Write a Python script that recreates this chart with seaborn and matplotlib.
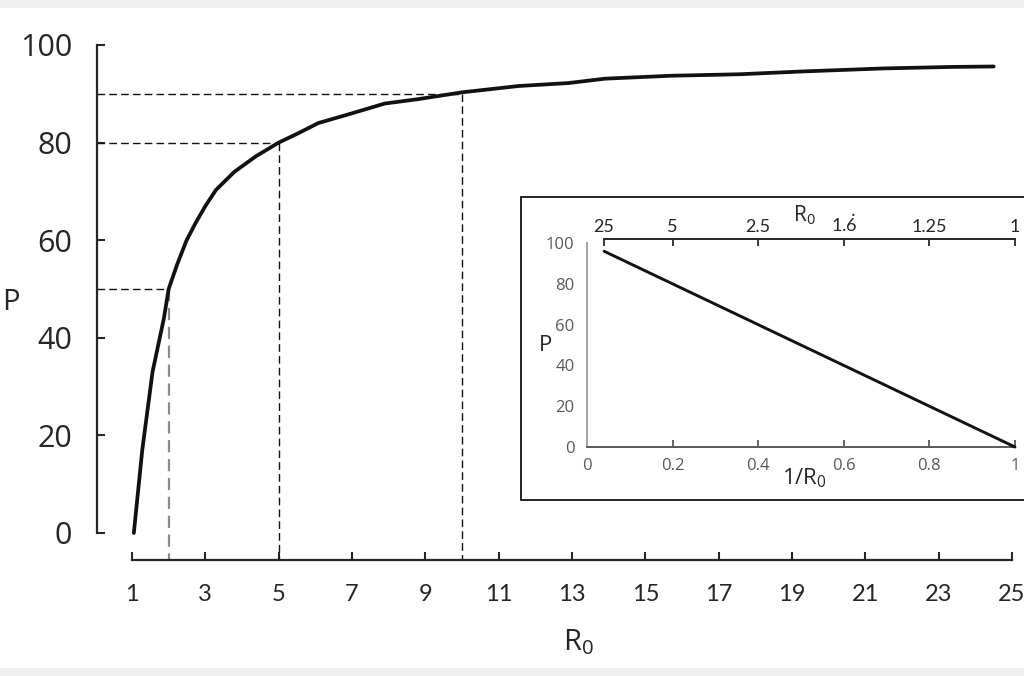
import matplotlib
matplotlib.use("Agg")
import matplotlib.pyplot as plt
import seaborn as sns
import pandas as pd
from matplotlib.patches import Rectangle

# ---------------- data ----------------
r0_values = [1.05, 1.28, 1.56, 1.87, 2.0, 2.23, 2.49, 2.74, 3.0, 3.29, 3.79, 4.38, 5.0,
             5.53, 6.08, 7.0, 7.89, 8.8, 10.0, 11.55, 12.9, 13.9, 15.7, 17.55, 19.35,
             21.5, 23.3, 24.5]
p_values = [0, 17, 33, 44, 50, 55, 60, 63.6, 67, 70.3, 74, 77.2, 80,
            81.9, 84, 86, 88, 88.9, 90.3, 91.6, 92.2, 93.1, 93.7, 94.0, 94.6,
            95.2, 95.5, 95.6]

guide_r0 = [2, 5, 10]
guide_p = [50, 80, 90]
guide_colors = ["#8a8a8a", "#111111", "#111111"]

x_ticks = list(range(1, 26, 2))
y_ticks = [0, 20, 40, 60, 80, 100]

inv_r0 = [0.04, 0.2, 0.4, 0.6, 0.8, 1.0]
inv_p = [96, 80, 60, 40, 20, 0]
inset_x_ticks = [0, 0.2, 0.4, 0.6, 0.8, 1]
inset_x_labels = ["0", "0.2", "0.4", "0.6", "0.8", "1"]
inset_y_ticks = [0, 20, 40, 60, 80, 100]
top_ticks = [0.04, 0.2, 0.4, 0.6, 0.8, 1.0]
top_labels = ["25", "5", "2.5", r"1.$\dot{\mathrm{6}}$", "1.25", "1"]

main_df = pd.DataFrame({"R0": r0_values, "P": p_values})
inset_df = pd.DataFrame({"inv": inv_r0, "P": inv_p})

# ---------------- style ----------------
sns.set_theme(style="ticks")
plt.rcParams["font.family"] = ["Open Sans", "DejaVu Sans"]
plt.rcParams["axes.facecolor"] = "none"
plt.rcParams["mathtext.fontset"] = "custom"
plt.rcParams["mathtext.rm"] = "Lato"
plt.rcParams["mathtext.it"] = "Lato:italic"
plt.rcParams["mathtext.bf"] = "Lato:bold"

W, H = 1024, 676
fig = plt.figure(figsize=(W / 100, H / 100), dpi=100, facecolor="white")

# gray bands at top and bottom
band = "#f0f0f0"
fig.add_artist(Rectangle((0, 1 - 8 / H), 1, 8 / H, transform=fig.transFigure,
                         facecolor=band, edgecolor="none", zorder=0))
fig.add_artist(Rectangle((0, 0), 1, 8 / H, transform=fig.transFigure,
                         facecolor=band, edgecolor="none", zorder=0))

dark = "#262626"

# ---------------- main axes ----------------
ax = fig.add_axes([97 / W, 1 - 560 / H, (1012 - 97) / W, (560 - 45) / H], zorder=1)
x_left = 1 - 35 / 36.67
y_bottom = -27 / 4.88
ax.set_xlim(x_left, 25)
ax.set_ylim(y_bottom, 100)

# dashed guide lines
for r, p, c in zip(guide_r0, guide_p, guide_colors):
    ax.plot([x_left, r], [p, p], color="#111111", lw=1.0, dashes=(5.5, 3), zorder=2,
            clip_on=False)
    ax.plot([r, r], [p, y_bottom], color=c, lw=1.0 if c == "#111111" else 1.6,
            dashes=(5.5, 3), zorder=2, clip_on=False)

sns.lineplot(data=main_df, x="R0", y="P", ax=ax, color="#111111", lw=2.7,
             estimator=None, sort=False, zorder=3)

for s in ["top", "right"]:
    ax.spines[s].set_visible(False)
for s in ["left", "bottom"]:
    ax.spines[s].set_linewidth(1.6)
    ax.spines[s].set_color(dark)
ax.spines["left"].set_bounds(0, 100)
ax.spines["bottom"].set_bounds(1, 25)

ax.set_xticks(x_ticks)
ax.set_xticklabels([str(v) for v in x_ticks], fontfamily="Lato", fontsize=17, color=dark)
ax.set_yticks(y_ticks)
ax.set_yticklabels([str(v) for v in y_ticks], fontsize=22, color=dark)
ax.tick_params(axis="x", direction="in", length=6, width=1.5, color=dark, pad=17)
ax.tick_params(axis="y", direction="in", length=6, width=1.5, color=dark, pad=18)

ax.set_xlabel(r"$\mathregular{R_0}$", fontsize=21, color=dark)
ax.xaxis.set_label_coords((578 - 97) / 915, (560 - 640) / 515 + 0.025)
ax.set_ylabel("P", fontsize=21, color=dark, rotation=0, ha="center", va="center")
ax.yaxis.set_label_coords((11 - 97) / 915, (560 - 303) / 515)

# ---------------- inset box ----------------
fig.add_artist(Rectangle((521 / W, 1 - 500 / H), (1040 - 521) / W, (500 - 197) / H,
                         transform=fig.transFigure, facecolor="white",
                         edgecolor="#111111", lw=1.3, zorder=5))

# ---------------- inset axes ----------------
ia = fig.add_axes([587 / W, 1 - 447 / H, 428 / W, 208 / H], zorder=6)
ia.set_xlim(0, 1)
ia.set_ylim(0, 102)
sns.lineplot(data=inset_df, x="inv", y="P", ax=ia, color="#111111", lw=2.1,
             estimator=None, sort=False, zorder=3, clip_on=False)

for s in ["top", "right"]:
    ia.spines[s].set_visible(False)
ia.spines["left"].set_color("#a6a6a6")
ia.spines["left"].set_linewidth(1.4)
ia.spines["left"].set_bounds(0, 100)
ia.spines["bottom"].set_color("#595959")
ia.spines["bottom"].set_linewidth(1.4)

gray = "#595959"
ia.set_xticks(inset_x_ticks)
ia.set_xticklabels(inset_x_labels, fontsize=12, color=gray)
ia.set_yticks(inset_y_ticks)
ia.set_yticklabels([str(v) for v in inset_y_ticks], fontsize=12, color=gray)
ia.tick_params(axis="x", direction="in", length=5, width=1.3, color=gray, pad=8)
ia.tick_params(axis="y", direction="in", length=0, pad=9)
ia.set_xlabel("")
ia.set_ylabel("")

ia.text(-0.098, 0.486, "P", transform=ia.transAxes, fontsize=16, color=dark,
        ha="center", va="center")
ia.text(0.509, -0.15, r"1/$\mathregular{R_0}$", transform=ia.transAxes, fontsize=16,
        color=dark, ha="center", va="center")

# top axis with R0 values
ta = ia.twiny()
ta.set_xlim(0, 1)
for s in ["left", "right", "bottom"]:
    ta.spines[s].set_visible(False)
ta.spines["top"].set_color(dark)
ta.spines["top"].set_linewidth(1.4)
ta.spines["top"].set_bounds(0.04, 1.0)
ta.set_xticks(top_ticks)
ta.set_xticklabels(top_labels, fontsize=13, color=dark, fontfamily=["Lato", "DejaVu Sans"])
ta.tick_params(axis="x", direction="in", length=5, width=1.3, color=dark, pad=3)
ta.text(0.509, 1.115, r"$\mathregular{R_0}$", transform=ia.transAxes, fontsize=15,
        color=dark, ha="center", va="center")

fig.savefig("out.png", dpi=100, facecolor="white")
